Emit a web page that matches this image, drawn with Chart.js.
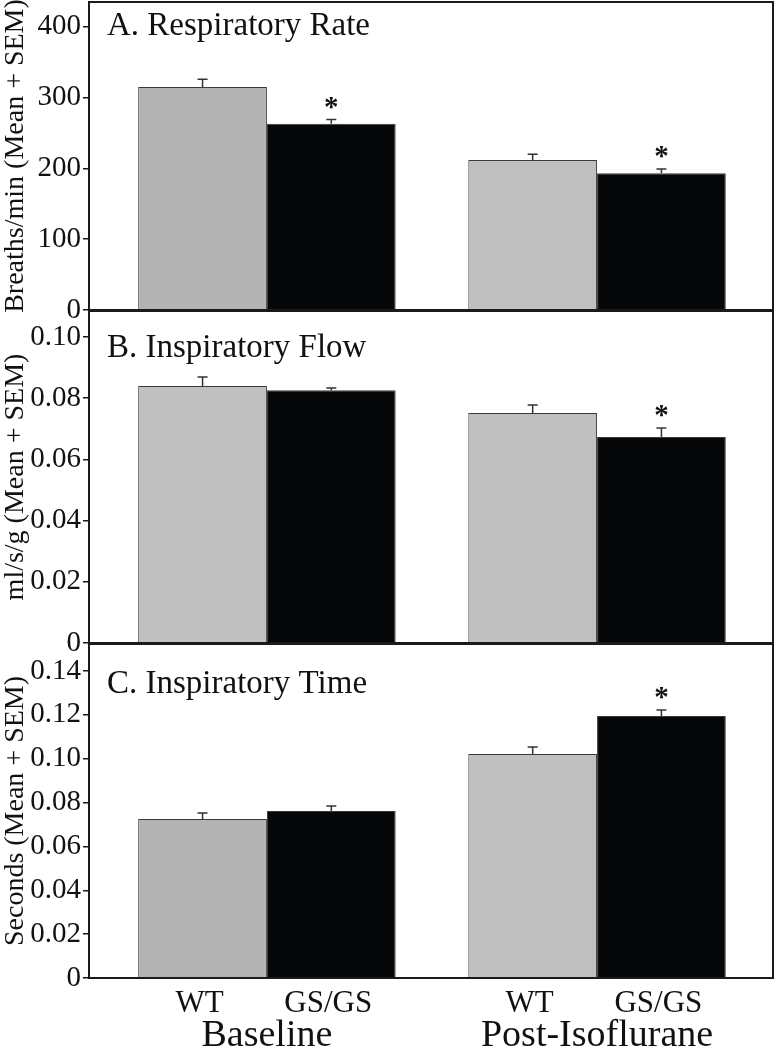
<!DOCTYPE html>
<html>
<head>
<meta charset="utf-8">
<script src="https://cdn.jsdelivr.net/npm/chart.js@4.4.1/dist/chart.umd.min.js"></script>
<style>
  html, body { margin: 0; padding: 0; background: #fff; }
  #wrap { position: relative; width: 775px; height: 1050px; overflow: hidden; }
  canvas { position: absolute; left: 0; }
</style>
</head>
<body>
<div id="wrap">
  <canvas id="rate" width="775" height="330" style="top:0px"></canvas>
  <canvas id="flow" width="775" height="356" style="top:310px"></canvas>
  <canvas id="time" width="775" height="407" style="top:643px"></canvas>
</div>
<script>
// groups and genotypes
const groups    = ['Baseline', 'Post-Isoflurane'];
const genotypes = ['WT', 'GS/GS'];

// A. Respiratory rate (breaths/min)
const rateWT    = [315, 212];
const rateWTErr = [11, 8];
const rateGS    = [263, 193];
const rateGSErr = [6, 6];
const rateGSSig = [true, true];
const rateTicks = [0, 100, 200, 300, 400];

// B. Inspiratory flow (ml/s/g)
const flowWT    = [0.0840, 0.0752];
const flowWTErr = [0.0029, 0.0026];
const flowGS    = [0.0826, 0.0673];
const flowGSErr = [0.0007, 0.0030];
const flowGSSig = [false, true];
const flowTicks = [0, 0.02, 0.04, 0.06, 0.08, 0.10];

// C. Inspiratory time (s)
const timeWT    = [0.0725, 0.1021];
const timeWTErr = [0.0027, 0.0032];
const timeGS    = [0.0762, 0.1195];
const timeGSErr = [0.0022, 0.0027];
const timeGSSig = [false, true];
const timeTicks = [0, 0.02, 0.04, 0.06, 0.08, 0.10, 0.12, 0.14];

Chart.defaults.font.family = '"Liberation Serif", "Times New Roman", serif';
Chart.defaults.color = '#111';
Chart.defaults.animation = false;

const INK = '#1a1a1a';

// error bars (upper half only) + significance stars
const errorBars = {
  id: 'errorBars',
  afterDatasetsDraw(chart) {
    const { ctx } = chart;
    const y = chart.scales.y;
    ctx.save();
    chart.data.datasets.forEach((ds, di) => {
      const meta = chart.getDatasetMeta(di);
      meta.data.forEach((bar, i) => {
        const top = y.getPixelForValue(ds.err[i] + ds.data[i].y);
        ctx.strokeStyle = '#333';
        ctx.lineWidth = 1.5;
        ctx.beginPath();
        ctx.moveTo(bar.x, bar.y);
        ctx.lineTo(bar.x, top);
        ctx.moveTo(bar.x - 5, top);
        ctx.lineTo(bar.x + 5, top);
        ctx.stroke();
        if (ds.sig && ds.sig[i]) {
          ctx.fillStyle = '#111';
          ctx.font = 'bold 29px "Liberation Serif"';
          ctx.textAlign = 'center';
          ctx.textBaseline = 'alphabetic';
          ctx.fillText('*', bar.x, top - 4);
        }
      });
    });
    ctx.restore();
  }
};

// box around plot + panel title + genotype labels
const frame = {
  id: 'frame',
  afterDraw(chart, args, opts) {
    const { ctx, chartArea: a } = chart;
    ctx.save();
    ctx.strokeStyle = INK;
    ctx.lineWidth = 2;
    ctx.strokeRect(a.left, a.top, a.right - a.left, a.bottom - a.top);
    ctx.fillStyle = '#111';
    ctx.font = '33px "Liberation Serif"';
    ctx.textAlign = 'left';
    ctx.textBaseline = 'alphabetic';
    ctx.fillText(opts.title, a.left + 18, a.top + opts.titleDy);
    if (opts.genotypeLabels) {
      ctx.font = '31px "Liberation Serif"';
      ctx.textAlign = 'center';
      chart.data.datasets.forEach((ds, di) => {
        chart.getDatasetMeta(di).data.forEach(bar => {
          ctx.fillText(ds.label, bar.x - 3, a.bottom + 34);
        });
      });
    }
    ctx.restore();
  }
};

function minorTicks(majors) {
  return majors.flatMap((v, i) => i ? [(majors[i - 1] + v) / 2, v] : [v]);
}

function panel(id, p) {
  const pts = vals => vals.map((v, i) => ({ x: i, y: v }));
  return new Chart(document.getElementById(id), {
    type: 'bar',
    data: {
      datasets: [
        { label: genotypes[0], data: pts(p.wt), err: p.wtErr,
          backgroundColor: p.wtColors, borderColor: '#3a3a3a', borderWidth: 1 },
        { label: genotypes[1], data: pts(p.gs), err: p.gsErr, sig: p.sig,
          backgroundColor: '#060708', borderColor: '#3a3a3a', borderWidth: 1 }
      ]
    },
    options: {
      responsive: false,
      layout: { padding: p.pad },
      categoryPercentage: 0.78,
      barPercentage: 1.0,
      plugins: {
        legend: { display: false },
        tooltip: { enabled: false },
        frame: { title: p.title, titleDy: p.titleDy, genotypeLabels: p.showX }
      },
      scales: {
        x: {
          type: 'linear',
          offset: false,
          min: -0.539,
          max: 1.533,
          display: p.showX,
          grid: { display: false, drawTicks: false },
          border: { display: false },
          afterBuildTicks: s => { s.ticks = groups.map((g, i) => ({ value: i })); },
          ticks: {
            font: { size: 38 }, color: '#111', padding: 35, maxRotation: 0,
            callback: v => groups[v]
          },
          afterFit: s => {
            if (p.showX) s.height = 72;
            s.paddingLeft = 0; s.paddingRight = 0;
          }
        },
        y: {
          min: 0,
          max: p.max,
          afterBuildTicks: s => { s.ticks = minorTicks(p.ticks).map(v => ({ value: v })); },
          afterFit: s => {
            s.width = 89;
            s.paddingTop = 0; s.paddingBottom = 0;
          },
          grid: { drawOnChartArea: false, tickLength: 6, color: INK, lineWidth: 1.5 },
          border: { color: INK, width: 2 },
          ticks: {
            font: { size: 29 },
            color: '#111',
            padding: 2,
            callback: v => {
              const i = p.ticks.findIndex(t => Math.abs(t - v) < 1e-9);
              return i < 0 ? '' : p.tickLabels[i];
            }
          },
          title: {
            display: true,
            text: p.yTitle,
            font: { size: 28 },
            color: '#111',
            padding: { top: -1, bottom: 0 }
          }
        }
      }
    },
    plugins: [errorBars, frame]
  });
}

panel('rate', {
  title: 'A. Respiratory Rate', titleDy: 33,
  yTitle: 'Breaths/min (Mean + SEM)',
  wt: rateWT, wtErr: rateWTErr, gs: rateGS, gsErr: rateGSErr, sig: rateGSSig,
  wtColors: ['#b3b3b3', '#c0c0c0'],
  ticks: rateTicks, tickLabels: rateTicks.map(String), max: 435,
  pad: { top: 2, bottom: 20, left: 0, right: 2 }, showX: false
});

panel('flow', {
  title: 'B. Inspiratory Flow', titleDy: 46,
  yTitle: 'ml/s/g (Mean + SEM)',
  wt: flowWT, wtErr: flowWTErr, gs: flowGS, gsErr: flowGSErr, sig: flowGSSig,
  wtColors: ['#c0c0c0', '#c0c0c0'],
  ticks: flowTicks, tickLabels: flowTicks.map(v => v === 0 ? '0' : v.toFixed(2)), max: 0.1085,
  pad: { top: 1, bottom: 23, left: 0, right: 2 }, showX: false
});

panel('time', {
  title: 'C. Inspiratory Time', titleDy: 49,
  yTitle: 'Seconds (Mean + SEM)',
  wt: timeWT, wtErr: timeWTErr, gs: timeGS, gsErr: timeGSErr, sig: timeGSSig,
  wtColors: ['#b3b3b3', '#c0c0c0'],
  ticks: timeTicks, tickLabels: timeTicks.map(v => v === 0 ? '0' : v.toFixed(2)), max: 0.1523,
  pad: { top: 1, bottom: 0, left: 0, right: 2 }, showX: true
});
</script>
</body>
</html>
